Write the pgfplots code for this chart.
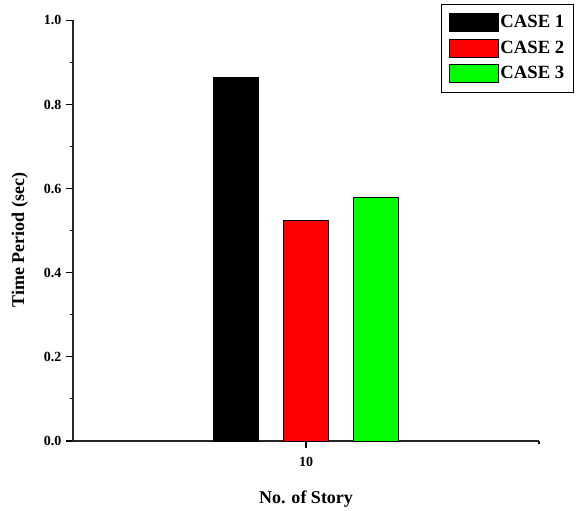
\documentclass[border=0pt]{standalone}
\usepackage{pgfplots}
\pgfplotsset{compat=1.18}
\usepackage{fontspec}
\setmainfont{Liberation Serif}
\begin{document}
\begin{tikzpicture}
\begin{axis}[
  at={(0,0)}, anchor=south west,
  scale only axis, width=349.5pt, height=315.5pt,
  xmin=9, xmax=11, ymin=0, ymax=1.0,
  axis x line=bottom, axis y line=left,
  axis line style={-, line width=1pt, black!85},
  xtick={10}, xticklabels={\textbf{10}}, minor xtick={11},
  ytick={0,0.2,0.4,0.6,0.8,1.0}, minor ytick={0.1,0.3,0.5,0.7,0.9},
  tick align=outside, major tick length=5.25pt, minor tick length=2.6pt,
  every tick/.style={black, line width=0.8pt},
  yticklabel style={/pgf/number format/.cd, fixed, fixed zerofill, precision=1, assume math mode=true},
  xticklabel style={yshift=-3pt},
  ticklabel style={font=\fontsize{10.5}{10.5}\selectfont\bfseries},
  xlabel={No. of Story}, ylabel={Time Period (sec)},
  label style={font=\fontsize{13.5}{13.5}\selectfont\bfseries},
  xlabel style={at={(axis description cs:0.5,-0.138)}, anchor=center},
  ylabel style={at={(axis description cs:-0.114,0.478)}, anchor=center},
  legend style={at={(1.075,1.039)}, anchor=north east, draw=black, line width=0.6pt,
    fill=white, font=\fontsize{14}{14}\selectfont\bfseries, row sep=5.25pt,
    inner xsep=5.5pt, inner ysep=6.6pt, nodes={inner sep=1.5pt}, cells={anchor=west}},
]
\addplot[ybar, bar width=0.193, bar shift=0pt, fill=black, draw=black, line width=0.5pt,
  legend image code/.code={\draw[fill=black, draw=black, line width=0.5pt] (0pt,-6.75pt) rectangle (36.75pt,6.75pt);}]
  coordinates {(9.7,0.8645)};
\addlegendentry{CASE 1}
\addplot[ybar, bar width=0.193, bar shift=0pt, fill=red, draw=black, line width=0.5pt,
  legend image code/.code={\draw[fill=red, draw=black, line width=0.5pt] (0pt,-6.75pt) rectangle (36.75pt,6.75pt);}]
  coordinates {(10,0.5246)};
\addlegendentry{CASE 2}
\addplot[ybar, bar width=0.193, bar shift=0pt, fill=green, draw=black, line width=0.5pt,
  legend image code/.code={\draw[fill=green, draw=black, line width=0.5pt] (0pt,-6.75pt) rectangle (36.75pt,6.75pt);}]
  coordinates {(10.3,0.579)};
\addlegendentry{CASE 3}
\end{axis}
\pgfresetboundingbox
\useasboundingbox (-54.75pt,-51.75pt) rectangle (378pt,330.75pt);
\end{tikzpicture}
\end{document}
